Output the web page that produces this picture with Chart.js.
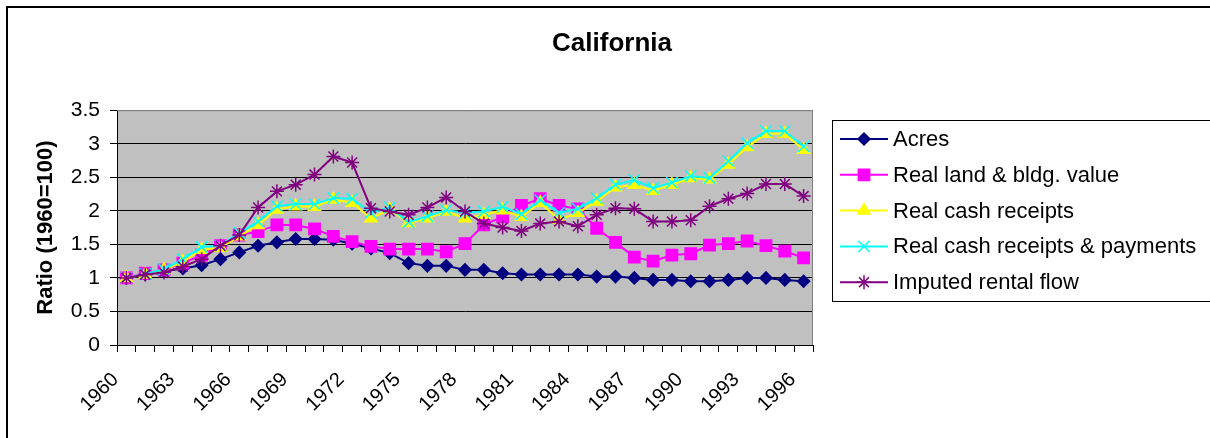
<!DOCTYPE html>
<html lang="en">
<head>
  <meta charset="UTF-8" />
  <title>California</title>
  <script src="https://cdn.jsdelivr.net/npm/chart.js"></script>
  <style>
    body { margin: 0; background: #fff; }
    #wrap { width: 1210px; height: 438px; }
  </style>
</head>
<body>
<div id="wrap"><canvas id="chart" width="1210" height="438"></canvas></div>
<script>
  // data
  const years = ['1960','1961','1962','1963','1964','1965','1966','1967','1968','1969',
    '1970','1971','1972','1973','1974','1975','1976','1977','1978','1979',
    '1980','1981','1982','1983','1984','1985','1986','1987','1988','1989',
    '1990','1991','1992','1993','1994','1995','1996'];

  const acres = [1.00,1.05,1.10,1.14,1.19,1.28,1.38,1.48,1.53,1.58,
    1.58,1.57,1.51,1.44,1.37,1.22,1.18,1.18,1.12,1.12,
    1.07,1.05,1.05,1.05,1.05,1.02,1.02,1.00,0.97,0.97,
    0.95,0.95,0.97,1.00,1.00,0.97,0.95];

  const landValue = [1.00,1.07,1.12,1.22,1.34,1.48,1.64,1.69,1.79,1.79,
    1.73,1.62,1.54,1.47,1.43,1.43,1.43,1.39,1.51,1.79,
    1.91,2.08,2.18,2.08,2.03,1.74,1.53,1.31,1.25,1.34,
    1.36,1.49,1.51,1.55,1.48,1.40,1.30];

  const cashReceipts = [1.00,1.05,1.12,1.24,1.42,1.45,1.62,1.79,2.02,2.07,
    2.06,2.17,2.12,1.89,2.02,1.82,1.89,1.99,1.89,1.94,
    2.01,1.91,2.12,1.87,1.97,2.14,2.35,2.39,2.30,2.39,
    2.49,2.47,2.69,2.95,3.15,3.15,2.91];

  const receiptsPayments = [1.00,1.06,1.13,1.28,1.46,1.48,1.67,1.84,2.07,2.10,
    2.10,2.19,2.18,1.97,2.05,1.83,1.92,2.01,1.97,1.99,
    2.06,1.95,2.16,1.97,2.03,2.19,2.39,2.46,2.34,2.42,
    2.52,2.49,2.74,3.01,3.19,3.19,2.96];

  const rentalFlow = [1.00,1.05,1.08,1.17,1.28,1.48,1.64,2.05,2.29,2.39,
    2.54,2.81,2.72,2.04,1.99,1.94,2.05,2.20,1.99,1.81,
    1.75,1.70,1.81,1.84,1.77,1.94,2.04,2.03,1.84,1.84,
    1.86,2.07,2.18,2.26,2.40,2.40,2.22];

  const yTicks = [0, 0.5, 1, 1.5, 2, 2.5, 3, 3.5];

  Chart.defaults.font.family = 'Arial, "Liberation Sans", sans-serif';
  Chart.defaults.color = '#000';

  function serie(label, data, color, style, radius, order) {
    return {
      label: label,
      data: data,
      borderColor: color,
      backgroundColor: color,
      borderWidth: 2,
      pointStyle: style,
      pointRadius: radius,
      pointHoverRadius: radius,
      pointBorderColor: color,
      pointBackgroundColor: color,
      pointBorderWidth: 1.5,
      tension: 0,
      yAxisID: 'y',
      order: order
    };
  }

  // grey plot area, outer frame
  const frame = {
    id: 'frame',
    beforeDraw(chart) {
      const ctx = chart.ctx, a = chart.chartArea;
      ctx.save();
      ctx.fillStyle = '#fff';
      ctx.fillRect(0, 0, chart.width, chart.height);
      ctx.fillStyle = '#C0C0C0';
      ctx.fillRect(a.left, a.top, a.right - a.left, a.bottom - a.top);
      ctx.strokeStyle = '#000';
      ctx.lineWidth = 2;
      ctx.strokeRect(7, 7, 1400, 1000);
      ctx.restore();
    },
    beforeDatasetsDraw(chart) {
      const ctx = chart.ctx, a = chart.chartArea;
      ctx.save();
      ctx.strokeStyle = '#808080';
      ctx.lineWidth = 1;
      ctx.beginPath();
      ctx.moveTo(a.left, a.top + 0.5);
      ctx.lineTo(a.right - 0.5, a.top + 0.5);
      ctx.lineTo(a.right - 0.5, a.bottom);
      ctx.stroke();
      ctx.restore();
    }
  };

  // Excel style legend: line + marker sample in a box
  const boxLegend = {
    id: 'boxLegend',
    afterDraw(chart) {
      const ctx = chart.ctx;
      ctx.save();
      ctx.strokeStyle = '#000';
      ctx.lineWidth = 1;
      ctx.strokeRect(832.5, 120.5, 500, 181);
      ctx.font = '22px Arial, "Liberation Sans", sans-serif';
      ctx.textBaseline = 'middle';
      ctx.textAlign = 'left';
      chart.data.datasets.forEach((ds, i) => {
        const y = 139 + i * 35.8;
        ctx.strokeStyle = ds.borderColor;
        ctx.lineWidth = 2;
        ctx.beginPath();
        ctx.moveTo(840, y);
        ctx.lineTo(888, y);
        ctx.stroke();
        ctx.fillStyle = ds.pointBackgroundColor;
        ctx.strokeStyle = ds.pointBorderColor;
        ctx.lineWidth = ds.pointBorderWidth;
        Chart.helpers.drawPoint(ctx, {
          pointStyle: ds.pointStyle,
          radius: ds.pointRadius,
          rotation: 0,
          borderWidth: ds.pointBorderWidth
        }, 864, y);
        ctx.fillStyle = '#000';
        ctx.fillText(ds.label, 893, y + 1);
      });
      ctx.restore();
    }
  };

  new Chart(document.getElementById('chart'), {
    type: 'line',
    data: {
      labels: years,
      datasets: [
        serie('Acres', acres, '#000080', 'rectRot', 6, 4),
        serie('Real land & bldg. value', landValue, '#FF00FF', 'rect', 8, 3),
        serie('Real cash receipts', cashReceipts, '#FFFF00', 'triangle', 7, 2),
        serie('Real cash receipts & payments', receiptsPayments, '#00FFFF', 'crossRot', 8, 1),
        serie('Imputed rental flow', rentalFlow, '#800080', 'star', 7, 0)
      ]
    },
    options: {
      responsive: false,
      devicePixelRatio: 1,
      animation: false,
      layout: { padding: { left: 14, right: 0, top: 0, bottom: 0 } },
      plugins: {
        legend: { display: false },
        tooltip: { enabled: false },
        title: {
          display: true,
          text: 'California',
          color: '#000',
          font: { size: 26, weight: 'bold' },
          padding: { top: 28, bottom: 51 }
        }
      },
      scales: {
        x: {
          offset: true,
          grid: { display: true, drawOnChartArea: false, offset: true, color: '#000', tickLength: 7 },
          border: { color: '#000', width: 1 },
          ticks: {
            autoSkip: false,
            maxRotation: 45,
            minRotation: 45,
            padding: 16,
            labelOffset: -11,
            font: { size: 20 },
            callback: function (v, i) { return i % 3 === 0 ? years[i] : ''; }
          },
          afterFit: s => { s.height = 93; }
        },
        y: {
          min: 0,
          max: 3.5,
          afterBuildTicks: s => { s.ticks = yTicks.map(v => ({ value: v })); },
          grid: {
            color: c => (c.tick && c.tick.value === 3.5) ? '#808080' : '#000',
            tickColor: '#000',
            tickLength: 7,
            lineWidth: 1
          },
          border: { color: '#000', width: 1 },
          ticks: { padding: 10, font: { size: 21 }, callback: v => String(v) },
          title: {
            display: true,
            text: 'Ratio (1960=100)',
            font: { size: 22, weight: 'bold' },
            padding: { top: 19, bottom: 0 }
          },
          afterFit: s => { s.width = 103; }
        },
        // empty axis that keeps room for the legend box on the right
        side: {
          position: 'right',
          display: true,
          grid: { display: false },
          border: { display: false },
          ticks: { display: false },
          afterFit: s => { s.width = 397; }
        }
      }
    },
    plugins: [frame, boxLegend]
  });
</script>
</body>
</html>
